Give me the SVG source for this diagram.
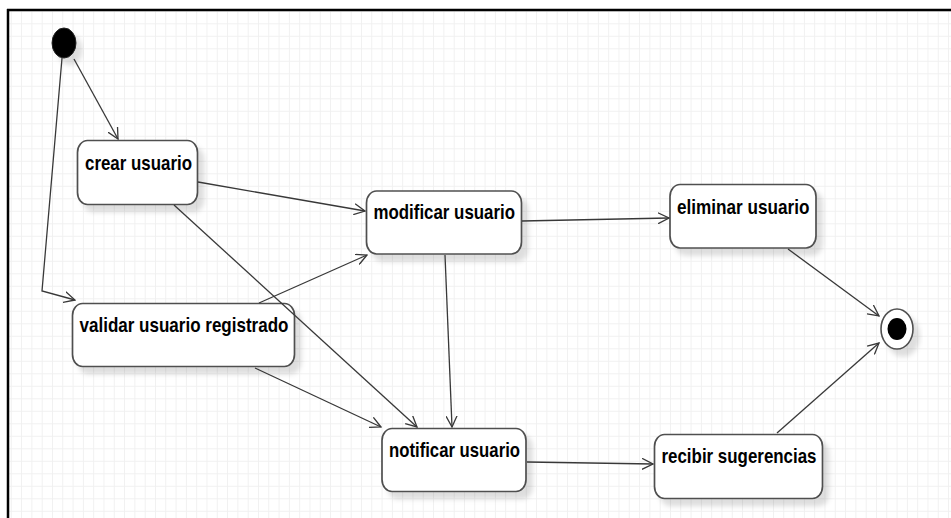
<svg xmlns="http://www.w3.org/2000/svg" width="951" height="518" viewBox="0 0 951 518">
  <defs>
    <pattern id="grid" patternUnits="userSpaceOnUse" x="0.5" y="10.8" width="10.3" height="12.5">
      <rect x="0" y="0" width="10.3" height="12.5" fill="#ffffff"/>
      <line x1="0" y1="0" x2="10.3" y2="0" stroke="#f0f0f0" stroke-width="1.8"/>
      <line x1="0" y1="0" x2="0" y2="12.5" stroke="#f0f0f0" stroke-width="1.8"/>
    </pattern>
    <filter id="shadow" x="-20%" y="-20%" width="150%" height="160%">
      <feDropShadow dx="6" dy="7" stdDeviation="2.5" flood-color="#000000" flood-opacity="0.13"/>
    </filter>
    <marker id="arrow" viewBox="0 0 12 12" refX="11" refY="6" markerWidth="12" markerHeight="12" markerUnits="userSpaceOnUse" orient="auto">
      <path d="M0,0.5 L11,6 L0,11.5" fill="none" stroke="#383838" stroke-width="1.3"/>
    </marker>
  </defs>
  <style>
    .state { fill: #ffffff; stroke: #505050; stroke-width: 1.7; filter: url(#shadow); }
    .label { font-family: "Liberation Sans", Arial, sans-serif; font-weight: bold; font-size: 21px; fill: #000000; }
    .edge { fill: none; stroke: #383838; stroke-width: 1.3; marker-end: url(#arrow); }
  </style>

  <!-- canvas with grid and frame -->
  <rect x="0" y="0" width="951" height="518" fill="#ffffff"/>
  <rect x="8" y="10" width="943" height="508" fill="url(#grid)"/>
  <line x1="7" y1="10" x2="951" y2="10" stroke="#000000" stroke-width="2.5"/>
  <line x1="8" y1="9" x2="8" y2="518" stroke="#000000" stroke-width="2.5"/>

  <!-- initial state -->
  <g id="initial">
    <ellipse cx="64" cy="43" rx="12" ry="15" fill="#000000" stroke="#222222" stroke-width="1" filter="url(#shadow)"/>
  </g>

  <g id="crear-usuario">
    <rect class="state" x="77.5" y="140.5" width="120" height="64" rx="10" ry="12"/>
    <text class="label" x="85" y="170" textLength="107" lengthAdjust="spacingAndGlyphs">crear usuario</text>
  </g>

  <g id="validar-usuario-registrado">
    <rect class="state" x="72.5" y="303.5" width="222" height="63" rx="10" ry="12"/>
    <text class="label" x="79.5" y="332" textLength="209" lengthAdjust="spacingAndGlyphs">validar usuario registrado</text>
  </g>

  <g id="modificar-usuario">
    <rect class="state" x="366.5" y="191" width="155" height="63" rx="10" ry="12"/>
    <text class="label" x="373.5" y="219" textLength="141.5" lengthAdjust="spacingAndGlyphs">modificar usuario</text>
  </g>

  <g id="eliminar-usuario">
    <rect class="state" x="670" y="184.5" width="146" height="63.5" rx="10" ry="12"/>
    <text class="label" x="677" y="213.5" textLength="132.5" lengthAdjust="spacingAndGlyphs">eliminar usuario</text>
  </g>

  <g id="notificar-usuario">
    <rect class="state" x="382" y="428.5" width="144" height="63" rx="10" ry="12"/>
    <text class="label" x="389" y="457" textLength="131" lengthAdjust="spacingAndGlyphs">notificar usuario</text>
  </g>

  <g id="recibir-sugerencias">
    <rect class="state" x="654.5" y="434.5" width="168" height="64" rx="10" ry="12"/>
    <text class="label" x="661.5" y="463" textLength="155" lengthAdjust="spacingAndGlyphs">recibir sugerencias</text>
  </g>

  <!-- final state -->
  <g id="final">
    <ellipse cx="897" cy="329" rx="16" ry="20" fill="#ffffff" stroke="#505050" stroke-width="1.6" filter="url(#shadow)"/>
    <ellipse cx="897" cy="329" rx="9.5" ry="11" fill="#000000"/>
  </g>

  <!-- transitions, drawn over the states -->
  <g id="connectors">
    <line class="edge" x1="74" y1="59" x2="118" y2="139"/>
    <polyline class="edge" points="62,58 42,291 75,300"/>
    <line class="edge" x1="198" y1="182" x2="365" y2="211"/>
    <line class="edge" x1="174" y1="205" x2="417" y2="427"/>
    <line class="edge" x1="259" y1="303" x2="367" y2="255"/>
    <line class="edge" x1="255" y1="368" x2="381" y2="427"/>
    <line class="edge" x1="445" y1="255" x2="452" y2="427"/>
    <line class="edge" x1="522" y1="221" x2="669" y2="218"/>
    <line class="edge" x1="788" y1="249" x2="879" y2="316"/>
    <line class="edge" x1="527" y1="462" x2="653" y2="464"/>
    <line class="edge" x1="777" y1="433" x2="879" y2="343"/>
  </g>
</svg>
